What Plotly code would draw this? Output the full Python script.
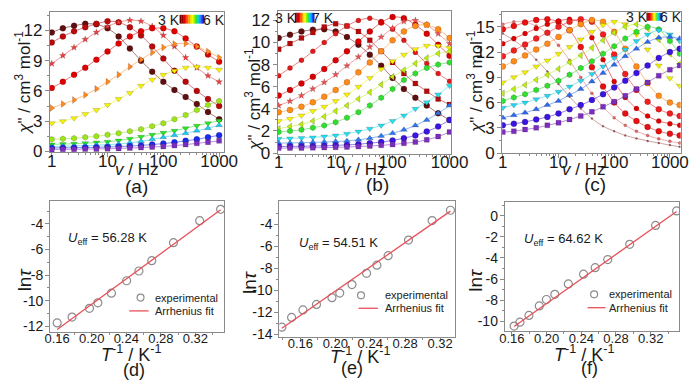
import plotly.graph_objects as go

# ---------------- data ----------------
FREQ = [1, 1.58, 2.51, 3.98, 6.31, 10, 15.8, 25.1, 39.8, 63.1, 100, 158, 251, 398, 631, 1000]
FREQ_C = [1, 1.58, 2.51, 3.98, 6.31, 10, 15.8, 25.1, 39.8, 63.1, 100, 158, 251, 398, 631, 1000, 1500]

# panel (a): chi'' at 3 K ... 6 K
a1 = [11.8, 12.2, 12.45, 12.65, 12.6, 12.2, 11.4, 10.2, 9.0, 7.9, 6.9, 6.1, 5.4, 4.7, 3.9, 3.2]
a2 = [10.8, 11.4, 11.9, 12.3, 12.65, 12.9, 12.8, 12.3, 11.5, 10.4, 9.2, 8.0, 6.9, 6.0, 5.2, 4.5]
a3 = [8.7, 9.5, 10.3, 11.1, 11.8, 12.4, 12.8, 13.0, 12.9, 12.4, 11.5, 10.4, 9.3, 8.3, 7.5, 6.9]
a4 = [6.3, 6.9, 7.6, 8.3, 9.1, 9.9, 10.7, 11.4, 11.9, 12.2, 12.2, 11.9, 11.2, 10.4, 9.6, 8.9]
a5 = [4.3, 4.7, 5.1, 5.6, 6.2, 6.9, 7.6, 8.4, 9.1, 9.8, 10.3, 10.65, 10.7, 10.4, 9.9, 9.3]
a6 = [2.8, 3.0, 3.3, 3.7, 4.1, 4.6, 5.2, 5.8, 6.5, 7.1, 7.6, 8.0, 8.3, 8.4, 8.3, 8.1]
a7 = [1.2, 1.25, 1.3, 1.4, 1.5, 1.65, 1.8, 2.0, 2.2, 2.5, 2.8, 3.2, 3.6, 4.1, 4.6, 5.0]
a8 = [0.7, 0.73, 0.77, 0.82, 0.88, 0.96, 1.08, 1.25, 1.45, 1.65, 1.85, 2.05, 2.3, 2.55, 2.8, 3.05]
a9 = [0.5, 0.52, 0.55, 0.58, 0.62, 0.67, 0.74, 0.85, 1.0, 1.2, 1.4, 1.6, 1.8, 2.05, 2.3, 2.6]
a10 = [0.35, 0.36, 0.37, 0.39, 0.41, 0.44, 0.48, 0.53, 0.6, 0.68, 0.78, 0.9, 1.05, 1.2, 1.4, 1.6]
a11 = [0.2, 0.21, 0.22, 0.23, 0.25, 0.27, 0.3, 0.34, 0.38, 0.44, 0.5, 0.58, 0.68, 0.8, 0.92, 1.05]

# panel (b): 3 K ... 7 K
b1 = [10.4, 10.7, 11.0, 11.15, 11.2, 11.0, 10.5, 9.8, 8.9, 7.9, 6.8, 5.8, 5.0, 4.3, 3.6, 3.0]
b2 = [9.4, 9.9, 10.4, 10.9, 11.4, 11.7, 11.5, 11.0, 10.2, 9.2, 8.2, 7.2, 6.3, 5.6, 4.9, 4.4]
b3 = [7.0, 7.7, 8.4, 9.2, 10.0, 10.8, 11.5, 12.0, 12.2, 11.9, 11.2, 10.2, 9.1, 8.1, 7.2, 6.5]
b4 = [5.2, 5.7, 6.3, 6.9, 7.6, 8.4, 9.2, 10.1, 11.0, 11.8, 12.3, 12.2, 11.6, 10.8, 9.8, 8.8]
b5 = [4.3, 4.7, 5.2, 5.8, 6.4, 7.1, 7.9, 8.7, 9.6, 10.5, 11.3, 11.9, 12.0, 11.6, 10.8, 9.9]
b6 = [3.7, 3.9, 4.2, 4.6, 5.1, 5.7, 6.4, 7.3, 8.2, 9.2, 10.2, 11.0, 11.5, 11.6, 11.2, 10.4]
b7 = [2.9, 3.1, 3.4, 3.8, 4.2, 4.7, 5.3, 6.0, 6.8, 7.6, 8.3, 8.9, 9.4, 9.7, 9.7, 9.5]
b8 = [2.2, 2.4, 2.6, 2.9, 3.3, 3.8, 4.3, 4.9, 5.5, 6.2, 6.9, 7.5, 8.1, 8.6, 9.0, 9.2]
b9 = [1.9, 2.0, 2.1, 2.3, 2.5, 2.8, 3.2, 3.7, 4.3, 5.0, 5.8, 6.6, 7.2, 7.7, 8.0, 8.2]
b10 = [1.3, 1.33, 1.37, 1.42, 1.5, 1.6, 1.75, 1.95, 2.2, 2.5, 2.9, 3.4, 4.0, 4.6, 5.3, 6.1]
b11 = [0.9, 0.92, 0.94, 0.97, 1.0, 1.05, 1.1, 1.2, 1.35, 1.55, 1.8, 2.1, 2.5, 3.0, 3.6, 4.3]
b12 = [0.6, 0.61, 0.62, 0.64, 0.66, 0.7, 0.74, 0.8, 0.9, 1.0, 1.15, 1.35, 1.6, 1.95, 2.4, 3.0]
b13 = [0.45, 0.46, 0.47, 0.48, 0.5, 0.52, 0.55, 0.59, 0.64, 0.7, 0.78, 0.88, 1.0, 1.2, 1.5, 1.9]

# panel (c): 3 K ... 6 K
c1 = [14.2, 13.4, 12.4, 11.1, 9.7, 8.2, 6.7, 5.3, 4.1, 3.2, 2.6, 2.1, 1.75, 1.45, 1.2, 0.95, 0.75]
c2 = [15.3, 15.6, 15.55, 15.1, 14.2, 12.8, 11.0, 9.0, 7.1, 5.5, 4.2, 3.3, 2.6, 2.1, 1.7, 1.4, 1.2]
c3 = [14.7, 15.1, 15.5, 15.8, 15.9, 15.6, 14.6, 12.6, 10.2, 7.9, 6.0, 4.7, 3.8, 3.1, 2.6, 2.3, 2.1]
c4 = [13.0, 13.6, 14.2, 14.8, 15.3, 15.7, 15.9, 15.5, 13.7, 11.1, 8.5, 6.6, 5.3, 4.4, 3.8, 3.5, 3.3]
c5 = [11.5, 12.2, 12.9, 13.6, 14.3, 15.0, 15.6, 15.9, 15.6, 14.1, 11.7, 9.4, 7.5, 6.1, 5.2, 4.7, 4.4]
c6 = [10.3, 10.9, 11.6, 12.3, 13.0, 13.8, 14.6, 15.3, 15.8, 15.6, 14.4, 12.4, 10.3, 8.3, 6.8, 6.0, 5.7]
c7 = [8.4, 9.0, 9.6, 10.3, 11.0, 11.8, 12.6, 13.5, 14.4, 15.2, 15.6, 15.3, 14.1, 12.3, 10.4, 8.9, 8.0]
c8 = [7.1, 7.6, 8.1, 8.7, 9.3, 10.0, 10.8, 11.6, 12.5, 13.4, 14.3, 15.0, 15.3, 14.8, 13.5, 11.8, 10.6]
c9 = [6.2, 6.6, 7.0, 7.5, 8.0, 8.6, 9.3, 10.1, 10.9, 11.8, 12.7, 13.6, 14.4, 15.0, 14.7, 13.3, 11.8]
c10 = [5.4, 5.7, 6.0, 6.4, 6.8, 7.3, 7.9, 8.6, 9.4, 10.3, 11.3, 12.3, 13.3, 14.1, 14.6, 14.1, 13.3]
c11 = [4.2, 4.5, 4.8, 5.2, 5.7, 6.2, 6.9, 7.6, 8.5, 9.5, 10.5, 11.5, 12.4, 13.2, 13.7, 13.8, 13.6]
c12 = [3.3, 3.5, 3.7, 4.0, 4.3, 4.7, 5.2, 5.7, 6.3, 7.0, 7.8, 8.6, 9.5, 10.4, 11.3, 12.0, 12.4]
c13 = [2.5, 2.6, 2.8, 3.0, 3.3, 3.6, 4.0, 4.4, 4.9, 5.5, 6.1, 6.8, 7.6, 8.4, 9.2, 9.9, 10.4]

# Arrhenius plots
d_x = [0.160, 0.1772, 0.1974, 0.2071, 0.2228, 0.2404, 0.2546, 0.2695, 0.2946, 0.3249, 0.3492]
d_y = [-11.74, -11.28, -10.60, -10.17, -9.41, -8.44, -7.68, -6.87, -5.47, -3.75, -2.86]
d_fit_x = [0.160, 0.3492]
d_fit_y = [-12.25, -2.90]

e_x = [0.1389, 0.150, 0.163, 0.1785, 0.1962, 0.2051, 0.2191, 0.2358, 0.2476, 0.2605, 0.2838, 0.3108, 0.3318]
e_y = [-13.35, -12.46, -11.78, -11.28, -10.66, -10.24, -9.47, -8.44, -7.70, -6.84, -5.42, -3.64, -2.70]
e_fit_x = [0.1389, 0.3318]
e_fit_y = [-13.45, -2.78]

f_x = [0.1626, 0.1693, 0.1797, 0.1916, 0.1998, 0.2095, 0.2251, 0.2426, 0.256, 0.2705, 0.2958, 0.3256, 0.3498]
f_y = [-10.46, -10.09, -9.45, -8.55, -7.94, -7.45, -6.46, -5.54, -4.92, -4.15, -2.71, -0.92, 0.46]
f_fit_x = [0.1626, 0.3498]
f_fit_y = [-10.5, 0.40]

U_EFF = ["56.28", "54.51", "64.62"]
PANEL_LABELS = ["(a)", "(b)", "(c)", "(d)", "(e)", "(f)"]
TICK_LOG = [1, 10, 100, 1000]
TICK_INV = [0.16, 0.20, 0.24, 0.28, 0.32]
TICK_LN = {4: [-12, -10, -8, -6, -4], 5: [-14, -12, -10, -8, -6, -4], 6: [-10, -8, -6, -4, -2, 0]}
LEGEND_NAMES = ["experimental", "Arrhenius fit"]

# ---------------- styles ----------------
W, H = 700, 384
FONT = "Liberation Sans, Arial, sans-serif"
AX_COL = "#8a8a8a"
EXP_COL = "#8c8c8c"
FIT_COL = "#e8505a"


def px(v):
    return v / W


def py(v):
    return 1 - v / H


def rgba(hexc, a):
    h = hexc.lstrip("#")
    return "rgba(%d,%d,%d,%.2f)" % (int(h[0:2], 16), int(h[2:4], 16), int(h[4:6], 16), a)


A_SERIES = [a1, a2, a3, a4, a5, a6, a7, a8, a9, a10, a11]
A_COL = ["#5e1010", "#b80a0a", "#f03c3c", "#e00000", "#ff8a1e", "#f5f500", "#9ae61a",
         "#26e626", "#1ec8f0", "#1a2cf0", "#7a2ec0"]
A_SYM = ["circle", "circle", "star", "circle", "triangle-right", "triangle-down", "hexagon",
         "triangle-down", "triangle-up", "circle", "square"]
A_SIZE = [6, 6, 5, 6, 6, 6, 6, 6, 6, 6, 5]

B_SERIES = [b1, b2, b3, b4, b5, b6, b7, b8, b9, b10, b11, b12, b13]
B_COL = ["#5e1010", "#b80a0a", "#e01a1a", "#d80000", "#f05050", "#ff8c1a", "#f5f500",
         "#b8ee10", "#2ee02e", "#22e0f0", "#2a7af0", "#3a14e0", "#7a2ec0"]
B_SYM = ["circle", "square", "circle", "circle", "star", "circle", "triangle-down",
         "triangle-left", "hexagon", "triangle-down", "triangle-up", "circle", "square"]
B_SIZE = [6, 5, 5, 6, 5, 6, 6, 6, 6, 6, 6, 6, 5]

C_SERIES = [c1, c2, c3, c4, c5, c6, c7, c8, c9, c10, c11, c12, c13]
C_COL = ["#a05858", "#e86a6a", "#e81010", "#e00000", "#f02020", "#ff8c1a", "#f0f000",
         "#b8ee10", "#2ee02e", "#22d8f0", "#2a6af0", "#3a14e0", "#7a2ec0"]
C_SYM = ["circle", "circle", "circle", "circle", "circle", "circle", "triangle-down",
         "triangle-left", "hexagon", "triangle-down", "triangle-up", "circle", "square"]
C_SIZE = [2, 3, 6, 5, 6, 6, 6, 6, 6, 6, 6, 6, 5]

# plot-area boxes in pixels: (x0, x1, ytop, ybottom)
BOX = {
    1: (38, 218, 4, 148),
    2: (273.3, 452.7, 3.3, 150),
    3: (505, 689.3, 4, 149),
    4: (38.3, 218.3, 198.3, 332.3),
    5: (275, 456.7, 198.3, 337.3),
    6: (507.7, 687.7, 199, 331.7),
}
XRANGE = {1: [-0.035, 3.09], 2: [-0.017, 3.034], 3: [-0.012, 3.193],
          4: [0.1518, 0.3536], 5: [0.136, 0.3374], 6: [0.1518, 0.3527]}
YRANGE = {1: [-0.07, 13.83], 2: [-0.09, 12.83], 3: [0.0, 16.77],
          4: [-12.42, -2.22], 5: [-14.2, -1.87], 6: [-10.93, 1.32]}
YTICK = {1: 3, 2: 2, 3: 3}

fig = go.Figure()


def add_family(k, xs, series, cols, syms, sizes):
    for ys, col, sym, sz in zip(series, cols, syms, sizes):
        fig.add_trace(go.Scatter(
            x=xs, y=ys, mode="lines+markers",
            xaxis="x%d" % k if k > 1 else "x", yaxis="y%d" % k if k > 1 else "y",
            line=dict(color=rgba(col, 0.55), width=1, shape="spline", smoothing=0.8),
            marker=dict(color=col, symbol=sym, size=sz, line=dict(color=rgba("#300000", 0.35), width=0.5)),
            showlegend=False, hoverinfo="skip"))


add_family(1, FREQ, A_SERIES, A_COL, A_SYM, A_SIZE)
add_family(2, FREQ, B_SERIES, B_COL, B_SYM, B_SIZE)
add_family(3, FREQ_C, C_SERIES, C_COL, C_SYM, C_SIZE)

ARR = [(4, d_x, d_y, d_fit_x, d_fit_y),
       (5, e_x, e_y, e_fit_x, e_fit_y),
       (6, f_x, f_y, f_fit_x, f_fit_y)]
for k, xs, ys, fx, fy in ARR:
    fig.add_trace(go.Scatter(
        x=xs, y=ys, mode="markers", name=LEGEND_NAMES[0], showlegend=False,
        xaxis="x%d" % k, yaxis="y%d" % k,
        marker=dict(symbol="circle-open", size=8, color=EXP_COL, line=dict(width=1.2, color=EXP_COL))))
    fig.add_trace(go.Scatter(
        x=fx, y=fy, mode="lines", name=LEGEND_NAMES[1], showlegend=False,
        xaxis="x%d" % k, yaxis="y%d" % k,
        line=dict(color=FIT_COL, width=1.3)))

layout = dict(width=W, height=H, margin=dict(l=0, r=0, t=0, b=0),
              paper_bgcolor="white", plot_bgcolor="white", showlegend=False,
              font=dict(family=FONT, color="#1a1a1a"))

minor_log = [m * 10 ** e for e in range(0, 4) for m in range(2, 10)]
minor_inv = [0.14, 0.18, 0.22, 0.26, 0.30, 0.34]

for k in range(1, 7):
    x0, x1, yt, yb = BOX[k]
    top = k <= 3
    xa = dict(domain=[px(x0), px(x1)], range=XRANGE[k], anchor="y%d" % k if k > 1 else "y",
              showline=True, linecolor=AX_COL, linewidth=1, mirror=True,
              ticks="outside", ticklen=4, tickcolor=AX_COL, showgrid=False, zeroline=False,
              tickfont=dict(family=FONT, size=17 if top else 13, color="#1a1a1a"),
              ticklabelstandoff=-11 if top else -9)
    ya = dict(domain=[py(yb), py(yt)], range=YRANGE[k], anchor="x%d" % k if k > 1 else "x",
              showline=True, linecolor=AX_COL, linewidth=1, mirror=True,
              ticks="outside", ticklen=4, tickcolor=AX_COL, showgrid=False, zeroline=False,
              tickfont=dict(family=FONT, size=17 if top else 14, color="#1a1a1a"),
              ticklabelstandoff=-1)
    if top:
        ya.update(dtick=YTICK[k], tick0=0,
                  minor=dict(ticks="outside", ticklen=2, tickcolor=AX_COL, dtick=YTICK[k] / 2, showgrid=False))
        xa.update(type="log", tickmode="array", tickvals=TICK_LOG, ticktext=[str(t) for t in TICK_LOG],
                  minor=dict(ticks="outside", ticklen=2, tickcolor=AX_COL, tickmode="array",
                             tickvals=minor_log, showgrid=False))
    else:
        tv = TICK_LN[k]
        ya.update(tickmode="array", tickvals=tv, ticktext=["%d" % t for t in tv],
                  minor=dict(ticks="outside", ticklen=2, tickcolor=AX_COL, tickmode="array",
                             tickvals=[t + 1 for t in tv], showgrid=False))
        xa.update(tickmode="array", tickvals=TICK_INV, ticktext=["%.2f" % t for t in TICK_INV],
                  minor=dict(ticks="outside", ticklen=2, tickcolor=AX_COL, tickmode="array",
                             tickvals=minor_inv, showgrid=False))
    layout["xaxis" if k == 1 else "xaxis%d" % k] = xa
    layout["yaxis" if k == 1 else "yaxis%d" % k] = ya

fig.update_layout(**layout)

ann = []
shapes = []


def text(x, y, s, size, angle=0, xanchor="center", color="#1a1a1a"):
    ann.append(dict(x=px(x), y=py(y), xref="paper", yref="paper", text=s, showarrow=False,
                    font=dict(family=FONT, size=size, color=color), textangle=angle,
                    xanchor=xanchor, yanchor="middle"))


YT_TOP = '<i>χ</i>" / cm<sup>3</sup> mol<sup>-1</sup>'
for (x, y) in [(10, 77), (247, 94), (477, 76)]:
    text(x, y, YT_TOP, 17, angle=-90)
for (x, y) in [(127, 166), (362, 166), (589, 166)]:
    text(x, y, "<i>v</i> / Hz", 17)
for lab, (x, y) in zip(PANEL_LABELS[:3], [(127, 183), (376, 181), (601, 181)]):
    text(x, y, lab, 19)

for (x, y) in [(12, 279), (244, 281), (478, 279)]:
    text(x, y, "ln<i>τ</i>", 19, angle=-90)
for (x, y) in [(122, 355), (358, 357), (590, 355)]:
    text(x, y, "<i>T</i><sup>-1</sup> / K<sup>-1</sup>", 18)
for lab, (x, y) in zip(PANEL_LABELS[3:], [(125, 372), (350, 370), (595, 370)]):
    text(x, y, lab, 18)
for u, (x, y) in zip(U_EFF, [(55, 237), (293, 242), (525, 238)]):
    text(x, y, "<i>U</i><sub>eff</sub> = %s K" % u, 13, xanchor="left")

# legends of the Arrhenius panels (circle key, line key, two labels)
LEG = [((131.7, 297.3), (120, 140, 311), 145),
       ((359.3, 295.0), (356.7, 376.7, 308.3), 381.7),
       ((600.0, 294.0), (593.3, 611.7, 307.7), 613.3)]
for (cx, cy), (lx0, lx1, ly), tx in LEG:
    r = 3.6
    shapes.append(dict(type="circle", xref="paper", yref="paper",
                       x0=px(cx - r), x1=px(cx + r), y0=py(cy + r), y1=py(cy - r),
                       line=dict(color=EXP_COL, width=1.2), fillcolor="rgba(0,0,0,0)"))
    shapes.append(dict(type="line", xref="paper", yref="paper",
                       x0=px(lx0), x1=px(lx1), y0=py(ly), y1=py(ly),
                       line=dict(color=FIT_COL, width=1.3)))
    text(tx, cy, LEGEND_NAMES[0], 11, xanchor="left", color="#222")
    text(tx, ly, LEGEND_NAMES[1], 11, xanchor="left", color="#222")

# temperature colour keys
BAR_COLS = ["#6a0000", "#a00000", "#d40000", "#ff1010", "#ff5a00", "#ff9a00", "#ffd800",
            "#f0ff00", "#90f000", "#30e040", "#00e0c0", "#00b0ff", "#1060ff", "#2020e0"]
KEYS = [((161, 12), (172, 197, 7, 16), (208, 12), "3 K", "6 K"),
        ((282, 10), (291, 311, 5, 15), (320, 10), "3 K", "7 K"),
        ((644, 9), (654, 670, 5, 13), (679, 9), "3 K", "6 K")]
for (tl, bar, tr, s1, s2) in KEYS:
    text(tl[0], tl[1], s1, 14)
    text(tr[0], tr[1], s2, 14)
    bx0, bx1, by0, by1 = bar
    n = len(BAR_COLS)
    step = (bx1 - bx0) / n
    for i, col in enumerate(BAR_COLS):
        shapes.append(dict(type="rect", xref="paper", yref="paper",
                           x0=px(bx0 + i * step), x1=px(bx0 + (i + 1) * step + 0.3),
                           y0=py(by1), y1=py(by0), fillcolor=col, line=dict(width=0)))

fig.update_layout(annotations=ann, shapes=shapes)
fig.write_html("out.html")
